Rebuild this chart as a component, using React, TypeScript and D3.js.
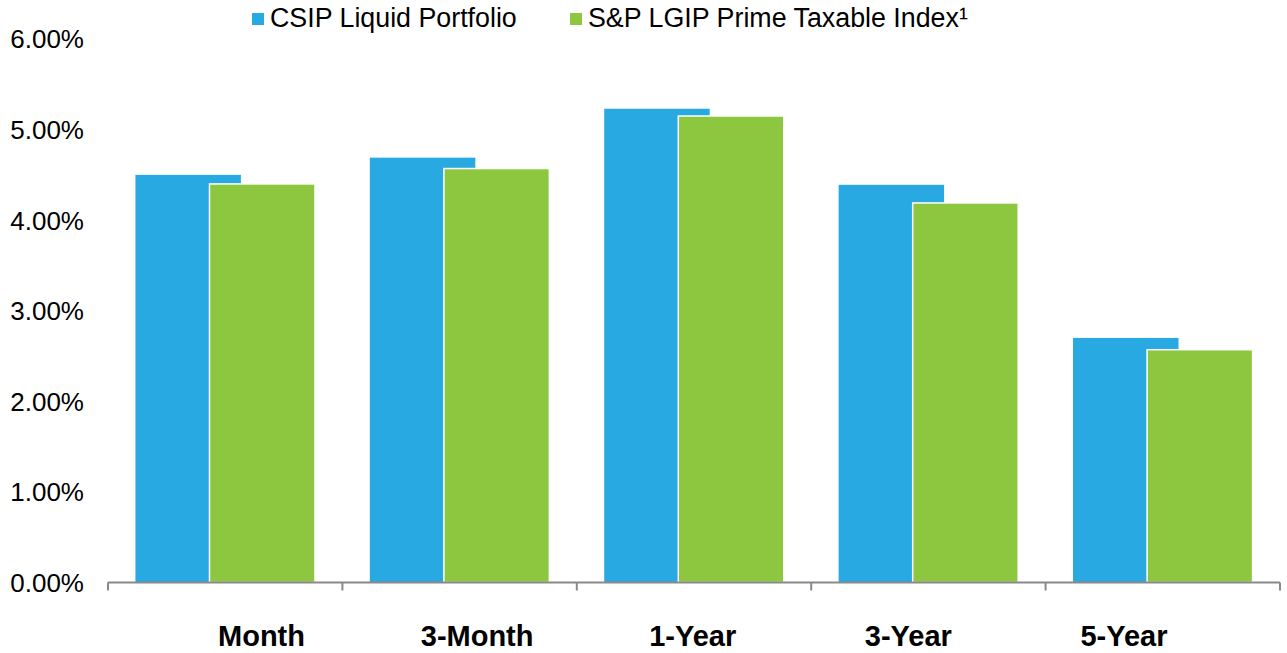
import { useEffect, useRef } from "react";
import * as d3 from "d3";

const categories = ["Month", "3-Month", "1-Year", "3-Year", "5-Year"];
const seriesNames = ["CSIP Liquid Portfolio", "S&P LGIP Prime Taxable Index\u00B9"];
const csipValues = [4.5, 4.69, 5.23, 4.39, 2.7];
const lgipValues = [4.4, 4.57, 5.15, 4.19, 2.57];
const yTicks = [0, 1, 2, 3, 4, 5, 6];
const colors = ["#29A9E1", "#8DC63F"];

export default function App() {
  const svgRef = useRef<SVGSVGElement>(null);

  useEffect(() => {
    if (!svgRef.current) return;
    const svg = d3.select(svgRef.current);
    svg.selectAll("*").remove();

    const width = 1287;
    const height = 653;
    const font = "'Liberation Sans', Arial, sans-serif";

    // scales
    const x = d3.scaleBand<string>().domain(categories).range([108, 1280]).padding(0);
    const y = d3.scaleLinear().domain([0, 6]).range([582.5, 39]);
    // category labels sit in their own evenly spaced row
    const labelX = d3.scalePoint<string>().domain(categories).range([261.5, 1124]);

    const bw = x.bandwidth();
    const barW = bw * 0.45;
    const shift = bw * 0.316;
    const groupW = barW + shift;

    svg.attr("width", width).attr("height", height);

    // y tick labels
    svg
      .append("g")
      .selectAll("text")
      .data(yTicks)
      .enter()
      .append("text")
      .attr("x", 84)
      .attr("y", (d) => y(d))
      .attr("dy", "0.36em")
      .attr("text-anchor", "end")
      .attr("font-family", font)
      .attr("font-size", 26)
      .attr("fill", "#000")
      .text((d) => `${d.toFixed(2)}%`);

    // bars
    const series = [csipValues, lgipValues];
    series.forEach((vals, si) => {
      svg
        .append("g")
        .selectAll("rect")
        .data(vals)
        .enter()
        .append("rect")
        .attr("x", (_, i) => (x(categories[i]) as number) + (bw - groupW) / 2 + si * shift)
        .attr("y", (d) => y(d))
        .attr("width", barW)
        .attr("height", (d) => y(0) - y(d))
        .attr("fill", colors[si])
        .attr("stroke", si === 1 ? "#fff" : "none")
        .attr("stroke-width", 1.5);
    });

    // x axis
    const axis = svg.append("g").attr("stroke", "#898989").attr("stroke-width", 2);
    axis
      .append("line")
      .attr("x1", x.range()[0])
      .attr("x2", x.range()[1])
      .attr("y1", y(0))
      .attr("y2", y(0));
    const bounds = categories.map((c) => x(c) as number).concat([x.range()[1]]);
    axis
      .selectAll("line.tick")
      .data(bounds)
      .enter()
      .append("line")
      .attr("class", "tick")
      .attr("x1", (d) => d)
      .attr("x2", (d) => d)
      .attr("y1", y(0))
      .attr("y2", y(0) + 8);

    // category labels
    svg
      .append("g")
      .selectAll("text")
      .data(categories)
      .enter()
      .append("text")
      .attr("x", (d) => labelX(d) as number)
      .attr("y", 646)
      .attr("text-anchor", "middle")
      .attr("font-family", font)
      .attr("font-size", 29)
      .attr("font-weight", "bold")
      .attr("fill", "#000")
      .text((d) => d);

    // legend
    const legendX = [252, 570];
    const legend = svg.append("g");
    seriesNames.forEach((name, i) => {
      legend
        .append("rect")
        .attr("x", legendX[i])
        .attr("y", 13)
        .attr("width", 12)
        .attr("height", 12)
        .attr("fill", colors[i]);
      legend
        .append("text")
        .attr("x", legendX[i] + 18)
        .attr("y", 26.5)
        .attr("font-family", font)
        .attr("font-size", 26.8)
        .attr("fill", "#000")
        .text(name);
    });
  }, []);

  return (
    <div style={{ position: "absolute", left: 0, top: 0 }}>
      <svg ref={svgRef} style={{ display: "block" }}></svg>
    </div>
  );
}
